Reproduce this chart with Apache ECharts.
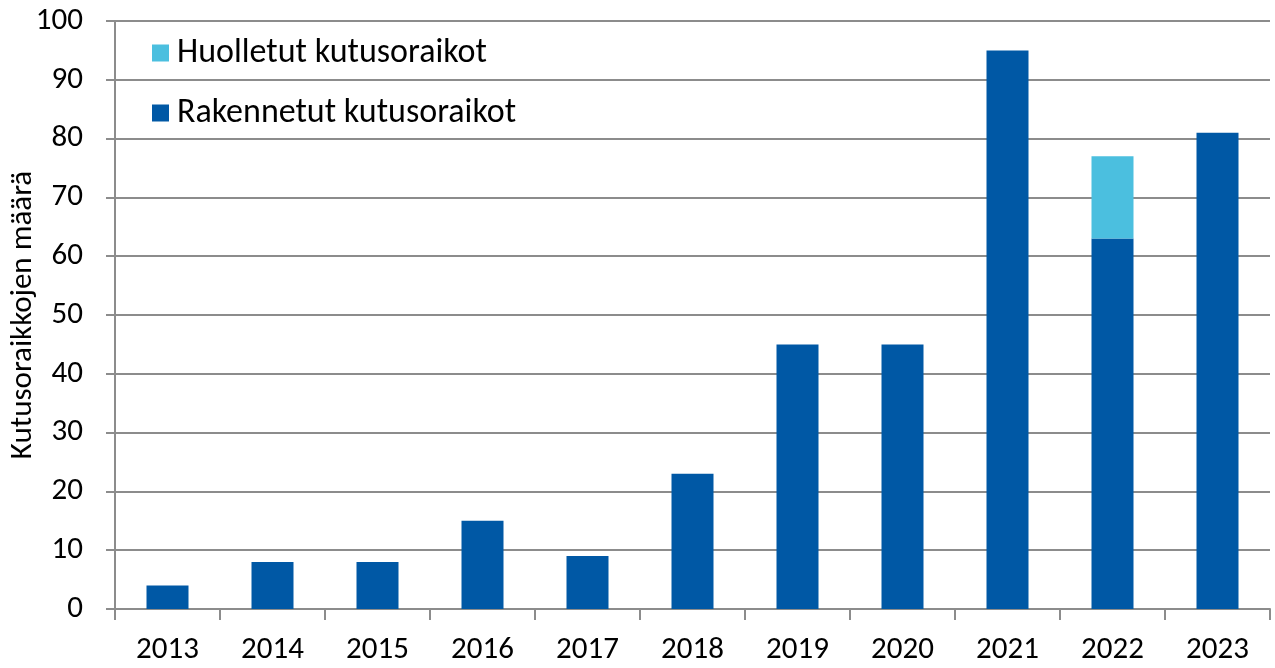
<!DOCTYPE html>
<html>
<head>
<meta charset="utf-8">
<script src="https://cdn.jsdelivr.net/npm/echarts@6/dist/echarts.min.js"></script>
<style>
  html, body { margin: 0; padding: 0; background: #fff; }
  #chart { width: 1275px; height: 668px; }
</style>
</head>
<body>
<div id="chart"></div>
<script>
// vuodet ja arvot
var years = ['2013', '2014', '2015', '2016', '2017', '2018', '2019', '2020', '2021', '2022', '2023'];
var rakennetut = [4, 8, 8, 15, 9, 23, 45, 45, 95, 63, 81];
var huolletut = [0, 0, 0, 0, 0, 0, 0, 0, 0, 14, 0];

var chart = echarts.init(document.getElementById('chart'));

var font = 'Carlito, "Open Sans", "Noto Sans", sans-serif';

var option = {
    animation: false,
    textStyle: { fontFamily: font },
    grid: { left: 115, right: 5, top: 21, bottom: 59, containLabel: false, outerBoundsMode: 'none' },
    legend: {
        orient: 'vertical',
        left: 147,
        top: 31,
        itemWidth: 17,
        itemHeight: 17,
        itemGap: 26,
        icon: 'rect',
        data: ['Huolletut kutusoraikot', 'Rakennetut kutusoraikot'],
        textStyle: { fontSize: 34, color: '#000', fontFamily: font, padding: [0, 0, 0, 3] }
    },
    xAxis: {
        type: 'category',
        data: years,
        axisLine: { lineStyle: { color: '#8c8c8c', width: 2 } },
        axisTick: { show: true, length: 11, lineStyle: { color: '#8c8c8c', width: 2 } },
        axisLabel: { fontSize: 31, color: '#000', margin: 26 }
    },
    yAxis: {
        type: 'value',
        min: 0,
        max: 100,
        interval: 10,
        name: 'Kutusoraikkojen määrä',
        nameLocation: 'middle',
        nameGap: 76,
        nameMoveOverlap: false,
        nameTextStyle: { fontSize: 31, color: '#000' },
        axisLine: { show: true, lineStyle: { color: '#8c8c8c', width: 2 } },
        axisTick: { show: true, length: 9, lineStyle: { color: '#8c8c8c', width: 2 } },
        axisLabel: { fontSize: 31, color: '#000', margin: 32 },
        splitLine: { lineStyle: { color: '#8c8c8c', width: 2 } }
    },
    series: [
        {
            name: 'Rakennetut kutusoraikot',
            type: 'bar',
            stack: 'yht',
            barWidth: '40%',
            itemStyle: { color: '#0058a5' },
            data: rakennetut
        },
        {
            name: 'Huolletut kutusoraikot',
            type: 'bar',
            stack: 'yht',
            barWidth: '40%',
            itemStyle: { color: '#4bbfdf' },
            data: huolletut
        }
    ]
};

chart.setOption(option);
</script>
</body>
</html>
